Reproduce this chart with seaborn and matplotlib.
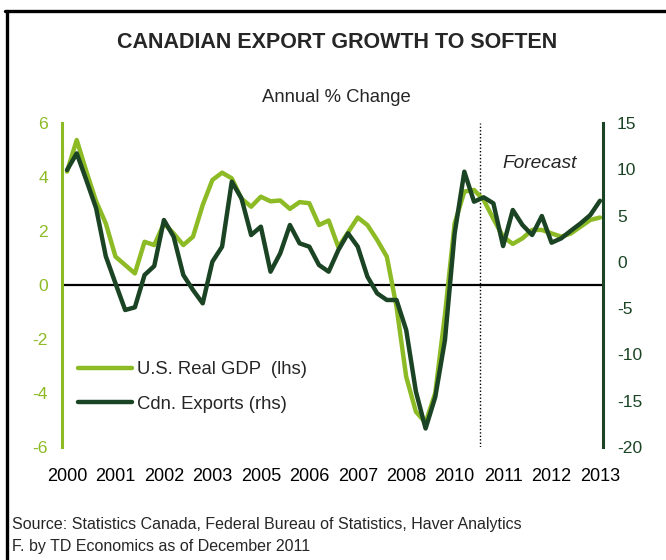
import matplotlib
matplotlib.use("Agg")
import matplotlib.pyplot as plt
import seaborn as sns
import numpy as np
import pandas as pd
from matplotlib.lines import Line2D

sns.set_theme(style="white")
plt.rcParams['font.family'] = ['Liberation Sans', 'DejaVu Sans']

# ---- data (quarterly, 2000Q1 .. 2013Q4) ----
quarters = list(range(56))
tick_positions = [0, 5, 10, 15, 20, 25, 30, 35, 40, 45, 50, 55]
tick_labels = ["2000", "2001", "2002", "2003", "2005", "2006",
               "2007", "2008", "2010", "2011", "2012", "2013"]

us_gdp = [4.2, 5.37, 4.2, 3.1, 2.28, 1.05, 0.74, 0.43, 1.6, 1.48,
          2.28, 1.91, 1.48, 1.79, 2.96, 3.89, 4.16, 3.95, 3.2, 2.9,
          3.27, 3.1, 3.13, 2.82, 3.07, 3.03, 2.22, 2.39, 1.4, 1.95,
          2.5, 2.22, 1.67, 1.05, -0.8, -3.4, -4.69, -5.1, -4.0, -1.1,
          2.28, 3.46, 3.52, 3.15, 2.45, 1.79, 1.52, 1.73, 2.04, 2.04,
          1.91, 1.79, 1.91, 2.16, 2.41, 2.5]

cdn_exports = [9.92, 11.72, 8.8, 5.8, 0.6, -2.32, -5.2, -4.91, -1.42, -0.45,
               4.52, 2.72, -1.42, -3.04, -4.48, 0.02, 1.64, 8.66, 6.86, 2.9,
               3.8, -1.06, 0.92, 3.98, 2.0, 1.64, -0.34, -1.06, 1.28, 3.08,
               1.64, -1.6, -3.4, -4.12, -4.12, -7.36, -14.0, -18.0, -14.6, -8.44,
               3.08, 9.74, 6.5, 6.97, 6.32, 1.71, 5.6, 3.98, 2.9, 4.95,
               2.07, 2.54, 3.37, 4.16, 5.06, 6.6]

forecast_start = 42.6
left_ticks = [-6, -4, -2, 0, 2, 4, 6]
right_ticks = [-20, -15, -10, -5, 0, 5, 10, 15]

light = "#8dbb25"
dark = "#1b4424"

df = pd.DataFrame({"q": quarters, "gdp": us_gdp, "exp": cdn_exports})

fig = plt.figure(figsize=(6.66, 5.6), dpi=100)
ax = fig.add_axes([62/666, 1-447/560, (603-62)/666, (447-123)/560])
ax2 = ax.twinx()

sns.lineplot(data=df, x="q", y="gdp", ax=ax, color=light, lw=3.2,
             label="U.S. Real GDP  (lhs)", legend=False)
sns.lineplot(data=df, x="q", y="exp", ax=ax2, color=dark, lw=3.2,
             label="Cdn. Exports (rhs)", legend=False)

ax.set_xlim(-0.52, 55.31)
ax.set_ylim(-6, 6)
ax2.set_ylim(-20, 15)

ax.axhline(0, color="black", lw=1.6, zorder=1)
ax.axvline(forecast_start, color="black", lw=1.0, ls=(0, (1, 1.5)), zorder=1)

for a in (ax, ax2):
    a.set_xlabel("")
    a.set_ylabel("")
    a.grid(False)
    for s in ("top", "bottom"):
        a.spines[s].set_visible(False)
ax.spines["right"].set_visible(False)
ax2.spines["left"].set_visible(False)
ax.spines["left"].set_color(light)
ax.spines["left"].set_linewidth(2.2)
ax2.spines["right"].set_color(dark)
ax2.spines["right"].set_linewidth(2.2)

ax.set_yticks(left_ticks)
ax.set_yticklabels([str(t) for t in left_ticks])
ax2.set_yticks(right_ticks)
ax2.set_yticklabels([str(t) for t in right_ticks])
ax.tick_params(axis="y", length=0, pad=10, labelsize=12.6, labelcolor=light)
ax2.tick_params(axis="y", length=0, pad=10, labelsize=12.6, labelcolor=dark)
ax.set_xticks(tick_positions)
ax.set_xticklabels(tick_labels)
ax.tick_params(axis="x", length=0, pad=15, labelsize=13, labelcolor="black")

ax.text(48.8, 4.5, "Forecast", style="italic", fontsize=13.8, ha="center", va="center")

h1 = Line2D([], [], color=light, lw=3.2)
h2 = Line2D([], [], color=dark, lw=3.2)
ax.legend([h1, h2], ["U.S. Real GDP  (lhs)", "Cdn. Exports (rhs)"],
          loc="upper left", bbox_to_anchor=(16/541, 0.265), frameon=False,
          fontsize=13.3, handlelength=2.95, handletextpad=0.25, labelspacing=0.95,
          borderaxespad=0.0, borderpad=0.0)

fig.text(337/666, 1-42/560, "CANADIAN EXPORT GROWTH TO SOFTEN", ha="center", va="center",
         fontsize=15.5, fontweight="bold")
fig.text(336/666, 1-98/560, "Annual % Change", ha="center", va="center", fontsize=13.3)
fig.text(12/666, 1-525/560, "Source: Statistics Canada, Federal Bureau of Statistics, Haver Analytics",
         ha="left", va="center", fontsize=11.5)
fig.text(12/666, 1-546/560, "F. by TD Economics as of December 2011",
         ha="left", va="center", fontsize=11.5)

fig.add_artist(Line2D([5/666, 1.0], [1-11/560, 1-11/560], color="black", lw=2.4,
                      transform=fig.transFigure))
fig.add_artist(Line2D([6.5/666, 6.5/666], [1-11/560, 0.0], color="black", lw=2.4,
                      transform=fig.transFigure))

fig.savefig("out.png", dpi=100)
